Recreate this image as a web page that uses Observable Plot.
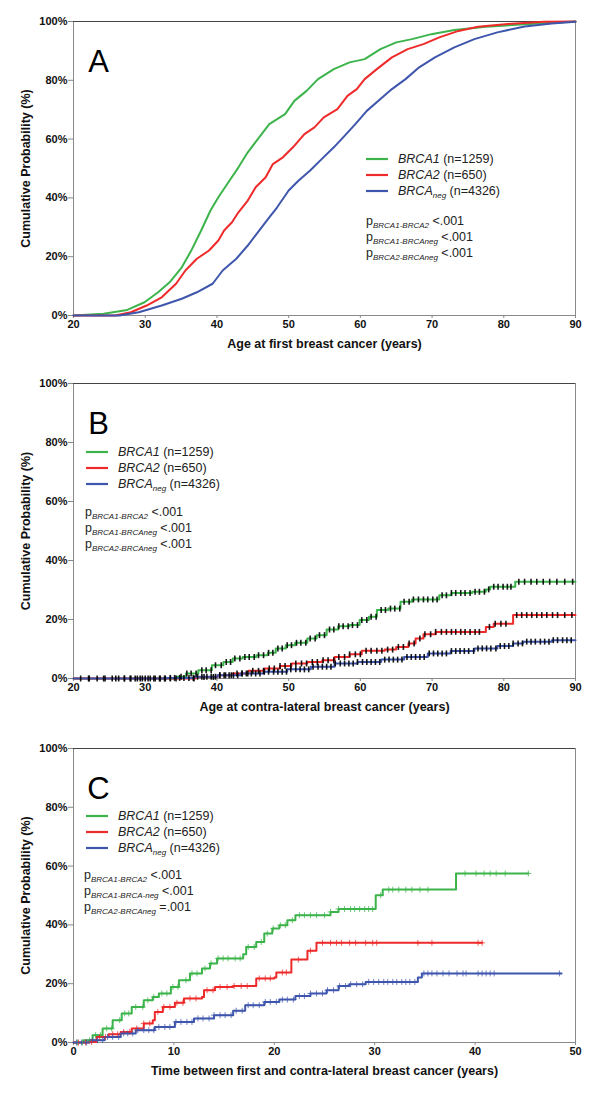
<!DOCTYPE html>
<html><head><meta charset="utf-8">
<script src="https://cdn.jsdelivr.net/npm/d3@7"></script>
<script src="https://cdn.jsdelivr.net/npm/@observablehq/plot@0.6"></script>
<style>
body{margin:0;background:#fff;}
#chart svg{display:block;}
</style></head><body><div id="chart"></div>
<script>
const FONT = "'Liberation Sans', Arial, Helvetica, sans-serif";
const groups = ["BRCA1","BRCA2","BRCAneg"];
const colors = ["#3cb44b","#ee2a2a","#3f56ad"];
const yTicks = [0,20,40,60,80,100];
const ageTicks = [20,30,40,50,60,70,80,90];
const timeTicks = [0,10,20,30,40,50];
const legendNames = ["BRCA1","BRCA2","BRCA"];
const legendSubs = ["","","neg"];
const legendN = [1259,650,4326];
const pSubsAB = ["BRCA1-BRCA2","BRCA1-BRCAneg","BRCA2-BRCAneg"];
const pValsAB = ["<.001","<.001","<.001"];
const pSubsC = ["BRCA1-BRCA2","BRCA1-BRCA-neg","BRCA2-BRCAneg"];
const pValsC = ["<.001","<.001","=.001"];
const yLabel = "Cumulative Probability (%)";
const xLabels = ["Age at first breast cancer (years)","Age at contra-lateral breast cancer (years)","Time between first and contra-lateral breast cancer (years)"];
const letters = ["A","B","C"];

// Panel A: [age, cumulative %]
const aBRCA1 = [[20,0],[24.2,0.6],[27.5,1.9],[29.9,4.5],[31.8,7.9],[33.4,11.3],[35.1,16.4],[36.4,22],[37.8,28.9],[39.1,35.7],[40.2,40.2],[41.6,45.3],[43,50.4],[44.3,55.5],[45.7,60],[47.3,65.1],[49.5,68.5],[50.8,73],[52.5,76.4],[54.1,80.4],[56.3,83.8],[58.5,86.1],[60.6,87.2],[62.8,90.6],[65,92.9],[67.2,94],[69.9,95.7],[73.1,97.1],[77.5,98.2],[82.9,99.1],[90,100]];
const aBRCA2 = [[20,0],[25.8,0],[28,1.1],[30.2,3.4],[32.3,6.2],[34.3,10.8],[35.6,15.3],[37.2,19.3],[38.9,22.1],[40.2,25.5],[41,28.9],[42.1,31.7],[43,35.1],[44.3,39.1],[45.4,43.6],[46.8,47],[47.8,51.5],[49.2,53.8],[50.6,57.2],[52.2,61.7],[53.6,64],[54.9,67.4],[56.8,70.2],[58.2,74.7],[59.5,77],[60.6,80.4],[62.3,83.8],[64.4,87.8],[66.6,90.6],[68.8,92.3],[71,94.6],[73.7,96.8],[76.4,98.2],[80.2,99.1],[85.6,99.9],[90,100]];
const aBRCAneg = [[20,0],[26.4,0],[29.1,1.1],[32.3,3.4],[35.1,5.7],[37.2,7.9],[39.4,10.8],[40.8,15.3],[42.7,19.3],[44.3,23.8],[45.7,28.3],[47.3,33.4],[48.4,36.8],[50,42.5],[51.4,45.9],[53,49.3],[54.6,53.2],[56.3,57.2],[57.6,60.6],[59.3,65.1],[60.9,69.6],[62.8,73.6],[64.4,77],[66.3,80.4],[68.2,84.4],[70.4,87.8],[73.1,91.2],[75.9,94],[79.1,96.3],[82.9,98.3],[86.7,99.3],[90,99.9]];

// Panel B: [age, cumulative %] (Kaplan-Meier steps)
const bBRCA1 = [[20,0],[34.4,0.6],[35.7,1.7],[37.4,2.8],[39.3,4.5],[40.9,5.6],[42.2,6.8],[43.6,7.3],[45.5,7.9],[47.1,8.7],[48.2,10.2],[49.6,11.3],[50.9,12.1],[52.6,13.6],[53.9,14.7],[55.3,16.6],[56.9,17.7],[58.5,18.1],[59.9,19.8],[61.2,20.9],[62.3,23.2],[63.9,23.7],[65.6,26],[67.2,26.8],[71,28.2],[72.7,29],[75.6,29.4],[77.5,30.2],[78.1,31.1],[81.6,32.8],[90,32.8]];
const bBRCA2 = [[20,0],[37,0.5],[40.1,1.1],[42.2,1.7],[44.4,2.6],[46.6,3.4],[48.8,4.2],[50.4,5.1],[52.6,5.6],[54.7,6.2],[56.4,7.3],[58.5,8.2],[60.2,9.4],[63.4,9.8],[65,10.7],[66.7,11.9],[67.7,13.6],[68.8,15],[70.5,15.8],[77.5,17.5],[78.6,18.6],[81.3,21.5],[90,21.5]];
const bBRCAneg = [[20,0],[33,0.2],[36.8,0.6],[40.1,1.1],[43.3,1.7],[46.6,2.3],[49.8,3.1],[53.1,4],[56.4,5.1],[59.6,5.6],[62.9,6.4],[66.1,7.3],[69.4,8.5],[72.6,9.3],[75.9,10.2],[79.1,11.0],[81.3,11.9],[82.7,12.5],[86.7,13.0],[90,13.0]];
// Panel B censor ages
const bCensor1 = [22.2,24.4,25.9,27.1,28.0,28.9,29.6,30.4,31.2,32.0,32.7,33.5,34.3,35.0,35.8,36.4,37.1,37.9,38.5,39.2,39.8,40.6,41.3,41.9,42.5,43.2,43.9,44.5,45.2,45.8,46.5,47.2,47.8,48.5,49.1,49.8,50.4,51.1,51.7,52.4,53.0,53.7,54.3,55.0,55.7,56.3,57.0,57.6,58.3,58.9,59.6,60.2,60.9,61.5,62.2,62.9,63.5,64.2,64.8,65.5,66.1,66.8,67.4,68.1,68.8,69.4,70.1,70.7,71.4,72.0,72.7,73.3,74.0,74.6,75.3,76.0,76.6,77.3,77.9,78.6,79.2,79.9,80.5,81.0,82.1,82.9,83.8,84.6,85.5,86.4,87.4,88.5,89.6];
const bCensor2 = [36.8,38.2,39.5,40.4,41.2,42.0,42.8,43.5,44.3,45.0,45.8,46.5,47.3,48.0,48.8,49.5,50.3,51.0,51.8,52.5,53.3,54.0,54.8,55.5,56.3,57.0,57.8,58.5,59.3,60.0,60.8,61.5,62.3,63.0,63.8,64.5,65.3,66.0,66.8,67.5,68.3,69.0,69.8,70.5,71.3,72.0,72.7,73.3,74.0,74.6,75.3,76.0,76.6,78.0,78.8,79.6,80.3,81.8,82.5,83.2,83.9,84.6,85.3,86.0,86.8,87.5,88.5,89.5];
const bCensorNeg = [21.0,22.1,23.3,24.2,25.4,26.3,27.1,27.9,28.6,29.3,30.0,30.7,31.4,32.1,32.8,33.5,34.1,34.8,35.4,36.1,36.7,37.3,37.9,38.6,39.2,39.8,40.4,41.0,41.7,42.3,42.9,43.5,44.1,44.8,45.4,46.0,46.6,47.2,47.9,48.5,49.1,49.7,50.3,51.0,51.6,52.2,52.8,53.4,54.1,54.7,55.3,55.9,56.5,57.2,57.8,58.4,59.0,59.6,60.3,60.9,61.5,62.1,62.7,63.4,64.0,64.6,65.2,65.8,66.5,67.1,67.7,68.3,68.9,69.6,70.2,70.8,71.4,72.0,72.7,73.3,73.9,74.5,75.1,75.8,76.4,77.0,77.6,78.2,78.9,79.5,80.1,80.7,81.3,82.0,82.6,83.2,83.8,84.4,85.1,85.7,86.3,86.9,87.5,88.2,88.8,89.4];

// Panel C: [years, cumulative %]
const cBRCA1 = [[0,0],[1.0,0.8],[1.9,2.5],[2.9,4.8],[3.9,7.6],[4.8,9.9],[5.8,12.1],[7,14.4],[7.9,15.5],[8.5,16.7],[9.7,18.9],[10.5,21.2],[11.6,23.5],[12.8,25.2],[13.6,26.9],[14.3,28.6],[16.9,30],[17.2,32.5],[18.2,34.2],[19,37.1],[19.8,38.8],[20.5,39.9],[21.3,41.6],[22.1,43.3],[25.6,44.4],[26.4,45.4],[30.1,50.1],[30.8,52],[38.1,57.5],[45.3,57.5]];
const cBRCA2 = [[0,0],[1.6,0.2],[2.3,1.9],[3.5,2.8],[4.7,3.6],[5.8,4.8],[7,6.5],[7.9,7.6],[8.1,10.4],[8.9,12.1],[10.1,13.5],[11,15],[12.8,15.5],[13,17.8],[14.1,18.9],[15.9,19.2],[18.2,21.8],[20,22.1],[20.2,23.8],[21.7,28.2],[23.3,31.2],[24.2,33.9],[40.7,33.9]];
const cBRCAneg = [[0,0],[1.6,0.8],[3.1,1.9],[4.7,3.1],[6.2,4.2],[8.1,5.3],[10.1,7.0],[12,8.2],[14,9.3],[15.9,10.8],[17.1,12.7],[19,13.8],[20.5,14.6],[22.1,15.8],[23.6,16.7],[25.2,17.8],[26.4,19.2],[27.5,19.8],[29.1,20.6],[34.3,22.1],[34.7,23.5],[48.6,23.5]];
const cCensor1 = [0.4,0.9,1.6,2.2,2.7,3.3,3.8,4.6,5.1,5.5,6.2,6.9,7.4,8.0,8.8,9.3,9.9,10.4,11.2,11.8,12.3,13.1,13.7,14.4,14.9,15.4,16.1,16.6,17.4,18.0,18.7,19.3,19.9,20.6,21.1,21.8,22.5,23.0,23.6,24.2,25.0,25.6,26.4,27.0,27.6,28.0,28.5,29.0,29.4,29.8,30.6,31.4,31.8,32.4,33.1,33.7,34.5,35.3,39.0,40.1,40.9,41.5,42.1,43.0,45.3];
const cCensor2 = [0.5,1.2,1.8,2.6,3.2,3.9,4.4,5.0,5.6,6.3,7.0,7.6,8.4,9.0,9.6,10.3,10.9,11.6,12.2,13.3,13.9,14.6,15.3,16.0,16.7,17.3,18.5,19.1,19.6,20.8,21.2,22.4,23.6,24.8,25.6,26.2,26.7,27.5,28.1,29.1,29.8,30.2,34.3,35.7,40.3,40.7];
const cCensorNeg = [0.3,0.8,1.3,1.9,2.4,2.9,3.4,3.9,4.5,5.0,5.4,5.9,6.4,7.0,7.5,8.0,8.5,9.1,9.6,10.2,10.7,11.3,11.8,12.4,12.9,13.5,14.0,14.6,15.1,15.7,16.2,16.8,17.4,17.9,18.5,19.1,19.6,20.2,20.8,21.3,21.9,22.5,23.0,23.6,24.2,24.8,25.3,25.9,26.5,27.1,27.6,28.2,28.8,29.4,29.9,30.4,30.9,31.3,31.8,32.2,32.7,33.1,33.5,34.0,34.9,35.3,35.7,36.2,36.8,37.4,38.2,38.8,39.1,40.3,40.7,41.1,41.5,41.9,48.4];

function stepAt(pts, t){ let y = 0; for (const [x,v] of pts){ if (x <= t) y = v; else break; } return y; }
const vtick = {draw(ctx, size){ const h = Math.sqrt(size/Math.PI); ctx.moveTo(0,-h); ctx.lineTo(0,h); }};
const plus = {draw(ctx, size){ const h = Math.sqrt(size/Math.PI); ctx.moveTo(-h,0); ctx.lineTo(h,0); ctx.moveTo(0,-h); ctx.lineTo(0,h); }};

function panel(cfg){
  const marks = [
    Plot.frame({stroke:"#8a8a8a"}),
    Plot.ruleY([100], {stroke:"#444"}),
    Plot.axisY({ticks: yTicks, tickFormat: d => d + "%", tickSize:5, tickPadding:1, fontWeight:"bold", fontSize:11, label:null, stroke:"#888", fill:"#111"}),
    Plot.axisX({ticks: cfg.xTicks, tickSize:3, tickPadding:2, fontWeight:"bold", fontSize:11, label:null, stroke:"#888", fill:"#111"}),
    Plot.text([cfg.xLabel], {text: d => d, frameAnchor:"bottom", dy:32, textAnchor:"middle", fontWeight:"bold", fontSize:12.5, fill:"#111"}),
    Plot.text([yLabel], {text: d => d, frameAnchor:"left", dx:-48, rotate:-90, textAnchor:"middle", fontWeight:"bold", fontSize:12.5, fill:"#111"}),
    Plot.text([cfg.letter], {text: d => d, frameAnchor:"top-left", dx:25, dy:28, textAnchor:"middle", fontSize:31, fontWeight:"normal", fill:"#000"})
  ];
  cfg.series.forEach((s, i) => {
    marks.push(Plot.line(s, {x: d => d[0], y: d => d[1], stroke: colors[i], strokeWidth: 2, curve: cfg.curve}));
  });
  if (cfg.censor) {
    cfg.censor.forEach((c, i) => {
      const pts = c.map(t => [t, stepAt(cfg.series[i], t)]);
      marks.push(Plot.dot(pts, {x: d => d[0], y: d => d[1], symbol: cfg.censorSymbol, r: cfg.censorR, fill:"none",
        stroke: cfg.censorColor || colors[i], strokeWidth: cfg.censorWidth, strokeOpacity: cfg.censorOpacity}));
    });
  }
  const svg = Plot.plot({
    width: 600, height: cfg.height,
    marginLeft: 73, marginRight: 25, marginTop: cfg.marginTop, marginBottom: cfg.marginBottom,
    x: {domain: cfg.xDomain}, y: {domain: [0,100]},
    style: {fontFamily: FONT, background: "#fff", overflow: "visible"},
    marks
  });
  const g = d3.select(svg).append("g").attr("font-family", FONT).attr("font-size", 12.5)
    .attr("fill", "#222").attr("text-anchor", "start").attr("font-weight", "normal");
  legendNames.forEach((name, i) => {
    const y = cfg.legY + i * 16;
    g.append("line").attr("x1", cfg.legX).attr("x2", cfg.legX + 22).attr("y1", y).attr("y2", y)
      .attr("stroke", colors[i]).attr("stroke-width", 2.2);
    const t = g.append("text").attr("x", cfg.legX + 32).attr("y", y).attr("dy", "0.35em");
    t.append("tspan").attr("font-style", "italic").text(name);
    if (legendSubs[i]) {
      t.append("tspan").attr("font-style", "italic").attr("font-size", 8).attr("dy", 3).text(legendSubs[i]);
      t.append("tspan").attr("dy", -3).text(" (n=" + legendN[i] + ")");
    } else {
      t.append("tspan").text(" (n=" + legendN[i] + ")");
    }
  });
  cfg.pSubs.forEach((sub, i) => {
    const y = cfg.pY + i * 15.7;
    const t = g.append("text").attr("x", cfg.pX).attr("y", y).attr("dy", "0.35em");
    t.append("tspan").text("p");
    t.append("tspan").attr("font-style", "italic").attr("font-size", 8).attr("dy", 3).text(sub);
    t.append("tspan").attr("dy", -3).text(" " + cfg.pVals[i]);
  });
  return svg;
}

const chart = document.getElementById("chart");
chart.append(panel({height:362, marginTop:21, marginBottom:47, xDomain:[20,90], xTicks:ageTicks, xLabel:xLabels[0], letter:letters[0],
  series:[aBRCA1, aBRCA2, aBRCAneg], curve:"linear", legX:366, legY:159, pX:366, pY:221, pSubs:pSubsAB, pVals:pValsAB}));
chart.append(panel({height:364, marginTop:21, marginBottom:48, xDomain:[20,90], xTicks:ageTicks, xLabel:xLabels[1], letter:letters[1],
  series:[bBRCA1, bBRCA2, bBRCAneg], curve:"step-after", censor:[bCensor1, bCensor2, bCensorNeg], censorSymbol:vtick, censorR:3,
  censorColor:"#000", censorWidth:1.6, censorOpacity:0.9, legX:86, legY:90, pX:85, pY:150, pSubs:pSubsAB, pVals:pValsAB}));
chart.append(panel({height:372, marginTop:22, marginBottom:56, xDomain:[0,50], xTicks:timeTicks, xLabel:xLabels[2], letter:letters[2],
  series:[cBRCA1, cBRCA2, cBRCAneg], curve:"step-after", censor:[cCensor1, cCensor2, cCensorNeg], censorSymbol:plus, censorR:3,
  censorWidth:1, censorOpacity:0.75, legX:86, legY:90, pX:84, pY:149, pSubs:pSubsC, pVals:pValsC}));
</script></body></html>
